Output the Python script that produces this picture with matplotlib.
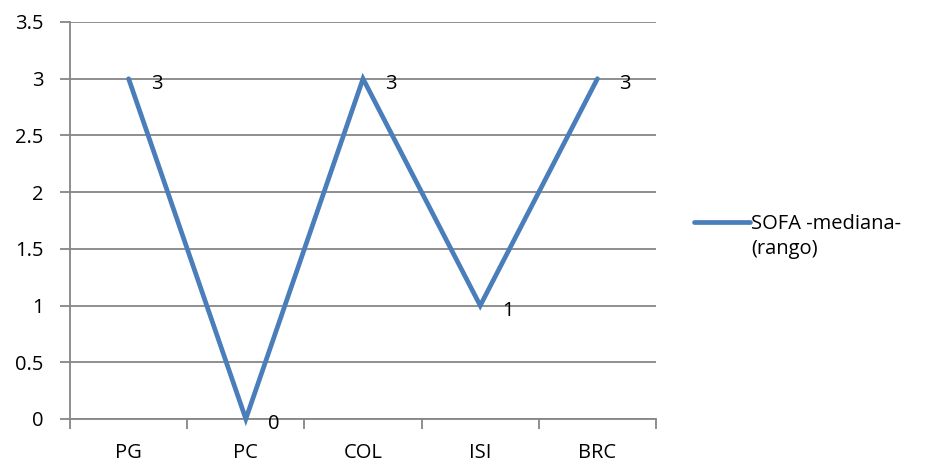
import numpy as np
import matplotlib.pyplot as plt
from matplotlib.lines import Line2D

plt.rcParams['font.family'] = ['Open Sans', 'DejaVu Sans']

categorias = ['PG', 'PC', 'COL', 'ISI', 'BRC']
sofa = [3, 0, 3, 1, 3]
etiqueta_serie = 'SOFA -mediana-\n(rango)'

fig = plt.figure(figsize=(9.3, 4.66), dpi=100)
ax = fig.add_axes([0.0753, 0.1009, 0.6301, 0.8519])

x = np.arange(len(categorias))
gris = '#868686'
azul = '#4A7EBB'
fs = 14.5

ax.set_xlim(-0.5, len(categorias) - 0.5)
ax.set_ylim(0, 3.5)
ax.set_yticks(np.arange(0, 3.51, 0.5))
ax.set_yticklabels(['0', '0.5', '1', '1.5', '2', '2.5', '3', '3.5'])
ax.yaxis.grid(True, color=gris, linewidth=1.3)
ax.set_axisbelow(True)

ax.set_xticks(x)
ax.set_xticklabels(categorias)
ax.set_xticks(np.arange(-0.5, len(categorias), 1), minor=True)
ax.tick_params(axis='x', which='major', length=0, pad=17, labelsize=fs)
ax.tick_params(axis='x', which='minor', length=7, width=1.3, color=gris, direction='out')
ax.tick_params(axis='y', length=7, width=1.3, color=gris, direction='out', pad=12, labelsize=fs)

for lado in ['top', 'right']:
    ax.spines[lado].set_visible(False)
for lado in ['left', 'bottom']:
    ax.spines[lado].set_color(gris)
    ax.spines[lado].set_linewidth(1.3)

ax.plot(x, sofa, color=azul, linewidth=3.4, solid_capstyle='round',
        solid_joinstyle='miter', clip_on=False, zorder=3)

for xi, v in zip(x, sofa):
    ax.annotate(str(v), (xi, v), xytext=(22, -5), textcoords='offset pixels',
                ha='left', va='center', fontsize=fs)

# leyenda a la derecha: la linea queda a la altura del primer renglon
y_ley = 0.524
fig.add_artist(Line2D([0.746, 0.806], [y_ley, y_ley], color=azul, linewidth=3.4,
                      solid_capstyle='round', transform=fig.transFigure))
fig.text(0.808, y_ley + 0.016, etiqueta_serie, ha='left', va='top', fontsize=fs,
         linespacing=1.3)

fig.savefig('out.png', dpi=100)
